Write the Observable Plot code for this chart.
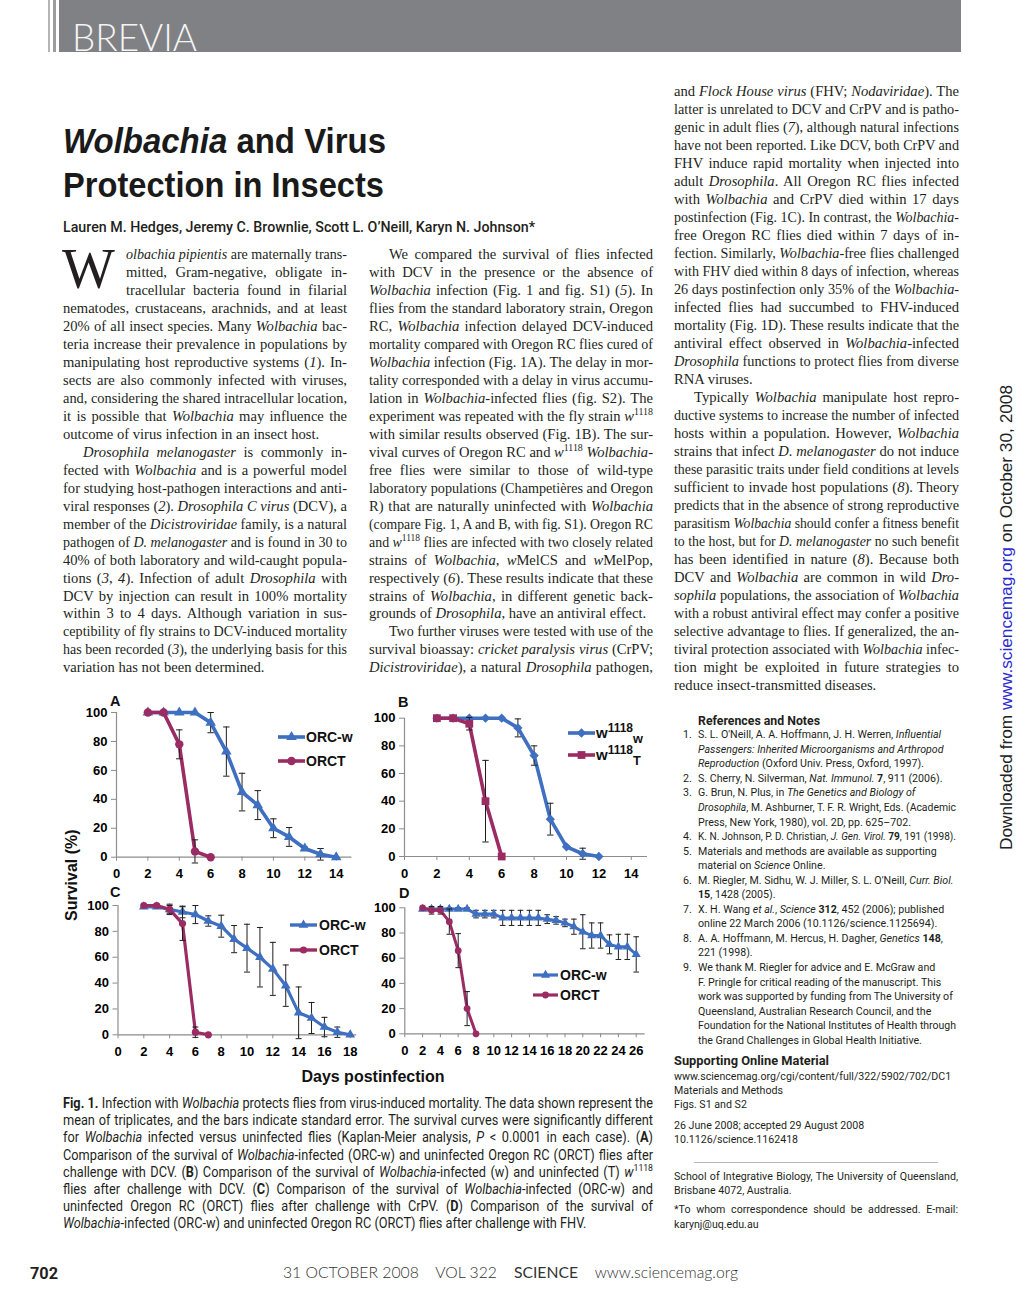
<!DOCTYPE html>
<html><head><meta charset="utf-8">
<script src="https://cdn.jsdelivr.net/npm/d3@7"></script>
<script src="https://cdn.jsdelivr.net/npm/@observablehq/plot@0.6"></script>
<style>
html,body{margin:0;padding:0;background:#fff;}
#page{position:relative;width:1020px;height:1298px;overflow:hidden;color:#231f20;background:#fff;}
.ln{position:absolute;white-space:pre;transform-origin:0 50%;}
.ln sup{font-size:68%;vertical-align:baseline;position:relative;top:-0.55em;line-height:0;}
.ln sub{font-size:72%;vertical-align:baseline;position:relative;top:0.3em;line-height:0;}
.leg sup{font-size:80%;top:-0.5em;}
.leg sub{font-size:85%;top:0.35em;}
#hdr{position:absolute;left:59px;top:0;width:902px;height:52px;background:#808184;}
.vl{position:absolute;top:0;height:52px;}
</style>
</head><body><div id="page"><div id="hdr"></div></div>
<script>
// ---------------- DATA ----------------
const yTicks = [0, 20, 40, 60, 80, 100];
const xTicksA = [0, 2, 4, 6, 8, 10, 12, 14];
const xTicksB = [0, 2, 4, 6, 8, 10, 12, 14];
const xTicksC = [0, 2, 4, 6, 8, 10, 12, 14, 16, 18];
const xTicksD = [0, 2, 4, 6, 8, 10, 12, 14, 16, 18, 20, 22, 24, 26];

// Panel A (DCV, Oregon RC)
const daysA_w = [2, 3, 4, 5, 6, 7, 8, 9, 10, 11, 12, 13, 14];
const survA_w = [100, 100, 100, 100, 93, 73, 45, 36, 20, 14, 6, 2, 0];
const seA_w   = [0, 0, 0, 0, 7, 17, 13, 10, 6.5, 6.5, 1, 4, 0];
const daysA_T = [2, 3, 4, 5, 6];
const survA_T = [100, 100, 78, 4, 0];
const seA_T   = [0, 0, 10, 8, 0];

// Panel B (DCV, w1118)
const daysB_w = [2, 3, 4, 5, 6, 7, 8, 9, 10, 11, 12];
const survB_w = [100, 100, 100, 100, 100, 93, 73, 27, 7, 2, 0];
const seB_w   = [0, 0, 0, 0, 0, 6.5, 7, 11.5, 0, 4, 0];
const daysB_T = [2, 3, 4, 5, 6];
const survB_T = [100, 100, 96, 40, 0];
const seB_T   = [0, 0, 4.5, 29.5, 0];

// Panel C (CrPV, Oregon RC)
const daysC_w = [2, 3, 4, 5, 6, 7, 8, 9, 10, 11, 12, 13, 14, 15, 16, 17, 18];
const survC_w = [99, 99, 97, 95, 93, 88, 84, 74, 67, 60, 51, 38, 17, 13, 6, 2, 0];
const seC_w   = [0, 0, 4, 4.5, 7, 4, 8.5, 10.5, 18.5, 23, 20.5, 16, 20, 12, 7.5, 4, 0];
const daysC_T = [2, 3, 4, 5, 6, 7];
const survC_T = [100, 100, 97, 86, 2, 0];
const seC_T   = [0, 1, 3, 13, 4, 0];

// Panel D (FHV, Oregon RC)
const daysD_w = [2, 3, 4, 5, 6, 7, 8, 9, 10, 11, 12, 13, 14, 15, 16, 17, 18, 19, 20, 21, 22, 23, 24, 25, 26];
const survD_w = [99, 99, 99, 99, 99, 99, 95, 95, 95, 92, 92, 92, 92, 92, 91, 90, 88, 85, 81, 78, 78, 71, 69, 69, 63];
const seD_w   = [1, 1.5, 1.5, 1, 1, 1, 3, 3, 3, 6, 6, 6, 6, 6, 3.5, 3, 3, 6, 13.5, 10, 10, 7.5, 10, 10, 14];
const daysD_T = [2, 3, 4, 5, 6, 7, 8];
const survD_T = [100, 98, 98, 89, 66, 20, 0];
const seD_T   = [0, 3, 3, 10, 13.5, 13.5, 0];

const seriesNames = {A: ["ORC-w", "ORCT"], B: ["w1118w", "w1118T"], C: ["ORC-w", "ORCT"], D: ["ORC-w", "ORCT"]};

// ---------------- TEXT ----------------
const col1 = [
 "<i>olbachia pipientis</i> are maternally trans-",
 "mitted, Gram-negative, obligate in-",
 "tracellular bacteria found in filarial",
 "nematodes, crustaceans, arachnids, and at least",
 "20% of all insect species. Many <i>Wolbachia</i> bac-",
 "teria increase their prevalence in populations by",
 "manipulating host reproductive systems (<i>1</i>). In-",
 "sects are also commonly infected with viruses,",
 "and, considering the shared intracellular location,",
 "it is possible that <i>Wolbachia</i> may influence the",
 "outcome of virus infection in an insect host.|",
 "><i>Drosophila melanogaster</i> is commonly in-",
 "fected with <i>Wolbachia</i> and is a powerful model",
 "for studying host-pathogen interactions and anti-",
 "viral responses (<i>2</i>). <i>Drosophila C virus</i> (DCV), a",
 "member of the <i>Dicistroviridae</i> family, is a natural",
 "pathogen of <i>D. melanogaster</i> and is found in 30 to",
 "40% of both laboratory and wild-caught popula-",
 "tions (<i>3</i>, <i>4</i>). Infection of adult <i>Drosophila</i> with",
 "DCV by injection can result in 100% mortality",
 "within 3 to 4 days. Although variation in sus-",
 "ceptibility of fly strains to DCV-induced mortality",
 "has been recorded (<i>3</i>), the underlying basis for this",
 "variation has not been determined.|"
];
const col2 = [
 ">We compared the survival of flies infected",
 "with DCV in the presence or the absence of",
 "<i>Wolbachia</i> infection (Fig. 1 and fig. S1) (<i>5</i>). In",
 "flies from the standard laboratory strain, Oregon",
 "RC, <i>Wolbachia</i> infection delayed DCV-induced",
 "mortality compared with Oregon RC flies cured of",
 "<i>Wolbachia</i> infection (Fig. 1A). The delay in mor-",
 "tality corresponded with a delay in virus accumu-",
 "lation in <i>Wolbachia</i>-infected flies (fig. S2). The",
 "experiment was repeated with the fly strain <i>w</i><sup>1118</sup>",
 "with similar results observed (Fig. 1B). The sur-",
 "vival curves of Oregon RC and <i>w</i><sup>1118</sup> <i>Wolbachia</i>-",
 "free flies were similar to those of wild-type",
 "laboratory populations (Champetières and Oregon",
 "R) that are naturally uninfected with <i>Wolbachia</i>",
 "(compare Fig. 1, A and B, with fig. S1). Oregon RC",
 "and <i>w</i><sup>1118</sup> flies are infected with two closely related",
 "strains of <i>Wolbachia</i>, <i>w</i>MelCS and <i>w</i>MelPop,",
 "respectively (<i>6</i>). These results indicate that these",
 "strains of <i>Wolbachia</i>, in different genetic back-",
 "grounds of <i>Drosophila</i>, have an antiviral effect.|",
 ">Two further viruses were tested with use of the",
 "survival bioassay: <i>cricket paralysis virus</i> (CrPV;",
 "<i>Dicistroviridae</i>), a natural <i>Drosophila</i> pathogen,"
];
const col3 = [
 "and <i>Flock House virus</i> (FHV; <i>Nodaviridae</i>). The",
 "latter is unrelated to DCV and CrPV and is patho-",
 "genic in adult flies (<i>7</i>), although natural infections",
 "have not been reported. Like DCV, both CrPV and",
 "FHV induce rapid mortality when injected into",
 "adult <i>Drosophila</i>. All Oregon RC flies infected",
 "with <i>Wolbachia</i> and CrPV died within 17 days",
 "postinfection (Fig. 1C). In contrast, the <i>Wolbachia</i>-",
 "free Oregon RC flies died within 7 days of in-",
 "fection. Similarly, <i>Wolbachia</i>-free flies challenged",
 "with FHV died within 8 days of infection, whereas",
 "26 days postinfection only 35% of the <i>Wolbachia</i>-",
 "infected flies had succumbed to FHV-induced",
 "mortality (Fig. 1D). These results indicate that the",
 "antiviral effect observed in <i>Wolbachia</i>-infected",
 "<i>Drosophila</i> functions to protect flies from diverse",
 "RNA viruses.|",
 ">Typically <i>Wolbachia</i> manipulate host repro-",
 "ductive systems to increase the number of infected",
 "hosts within a population. However, <i>Wolbachia</i>",
 "strains that infect <i>D. melanogaster</i> do not induce",
 "these parasitic traits under field conditions at levels",
 "sufficient to invade host populations (<i>8</i>). Theory",
 "predicts that in the absence of strong reproductive",
 "parasitism <i>Wolbachia</i> should confer a fitness benefit",
 "to the host, but for <i>D. melanogaster</i> no such benefit",
 "has been identified in nature (<i>8</i>). Because both",
 "DCV and <i>Wolbachia</i> are common in wild <i>Dro-</i>",
 "<i>sophila</i> populations, the association of <i>Wolbachia</i>",
 "with a robust antiviral effect may confer a positive",
 "selective advantage to flies. If generalized, the an-",
 "tiviral protection associated with <i>Wolbachia</i> infec-",
 "tion might be exploited in future strategies to",
 "reduce insect-transmitted diseases.|"
];
const caption = [
 "<b>Fig. 1.</b> Infection with <i>Wolbachia</i> protects flies from virus-induced mortality. The data shown represent the",
 "mean of triplicates, and the bars indicate standard error. The survival curves were significantly different",
 "for <i>Wolbachia</i> infected versus uninfected flies (Kaplan-Meier analysis, <i>P</i> &lt; 0.0001 in each case). (<b>A</b>)",
 "Comparison of the survival of <i>Wolbachia</i>-infected (ORC-w) and uninfected Oregon RC (ORCT) flies after",
 "challenge with DCV. (<b>B</b>) Comparison of the survival of <i>Wolbachia</i>-infected (w) and uninfected (T) <i>w</i><sup>1118</sup>",
 "flies after challenge with DCV. (<b>C</b>) Comparison of the survival of <i>Wolbachia</i>-infected (ORC-w) and",
 "uninfected Oregon RC (ORCT) flies after challenge with CrPV. (<b>D</b>) Comparison of the survival of",
 "<i>Wolbachia</i>-infected (ORC-w) and uninfected Oregon RC (ORCT) flies after challenge with FHV.|"
];
const refs = [
 ["1.", "S. L. O'Neill, A. A. Hoffmann, J. H. Werren, <i>Influential</i>"],
 ["", "<i>Passengers: Inherited Microorganisms and Arthropod</i>"],
 ["", "<i>Reproduction</i> (Oxford Univ. Press, Oxford, 1997)."],
 ["2.", "S. Cherry, N. Silverman, <i>Nat. Immunol.</i> <b>7</b>, 911 (2006)."],
 ["3.", "G. Brun, N. Plus, in <i>The Genetics and Biology of</i>"],
 ["", "<i>Drosophila</i>, M. Ashburner, T. F. R. Wright, Eds. (Academic"],
 ["", "Press, New York, 1980), vol. 2D, pp. 625–702."],
 ["4.", "K. N. Johnson, P. D. Christian, <i>J. Gen. Virol.</i> <b>79</b>, 191 (1998)."],
 ["5.", "Materials and methods are available as supporting"],
 ["", "material on <i>Science</i> Online."],
 ["6.", "M. Riegler, M. Sidhu, W. J. Miller, S. L. O'Neill, <i>Curr. Biol.</i>"],
 ["", "<b>15</b>, 1428 (2005)."],
 ["7.", "X. H. Wang <i>et al.</i>, <i>Science</i> <b>312</b>, 452 (2006); published"],
 ["", "online 22 March 2006 (10.1126/science.1125694)."],
 ["8.", "A. A. Hoffmann, M. Hercus, H. Dagher, <i>Genetics</i> <b>148</b>,"],
 ["", "221 (1998)."],
 ["9.", "We thank M. Riegler for advice and E. McGraw and"],
 ["", "F. Pringle for critical reading of the manuscript. This"],
 ["", "work was supported by funding from The University of"],
 ["", "Queensland, Australian Research Council, and the"],
 ["", "Foundation for the National Institutes of Health through"],
 ["", "the Grand Challenges in Global Health Initiative."]
];

// ---------------- LAYOUT HELPERS ----------------
const page = document.getElementById('page');
const F = {
  serif: '"Liberation Serif","Times New Roman",serif',
  sans: '"Liberation Sans",Arial,sans-serif',
  rob: 'Roboto,"Open Sans",sans-serif',
  lato: 'Lato,"Open Sans",sans-serif'
};
const BF = {serif: 0.8375, sans: 0.8465, rob: 0.8415, lato: 0.887};
function addText(html, x, base, o = {}) {
  const fs = o.fs || 14.6, fk = o.f || 'serif';
  const el = document.createElement('div');
  el.className = 'ln' + (o.cls ? ' ' + o.cls : '');
  el.innerHTML = html;
  Object.assign(el.style, {
    left: x + 'px', top: (base - BF[fk] * fs) + 'px', fontSize: fs + 'px',
    lineHeight: fs + 'px', fontFamily: F[fk], fontWeight: o.fw || 'normal',
    color: o.color || '#231f20'
  });
  if (o.style) Object.assign(el.style, o.style);
  (o.parent || page).appendChild(el);
  const w = el.getBoundingClientRect().width;
  let s = o.scale || 1;
  if (o.width) {
    if (o.exact) s = o.width / w;
    else if (w * s > o.width) s = o.width / w;
    else if (o.justify) {
      const n = (el.textContent.match(/ /g) || []).length;
      if (n) el.style.wordSpacing = ((o.width / s - w) / n) + 'px';
    }
  }
  if (o.align === 'right') el.style.left = (x - w * s) + 'px';
  if (o.align === 'center') el.style.left = (x - w * s / 2) + 'px';
  if (s !== 1) el.style.transform = `scaleX(${s})`;
  return {el, w, s};
}
function measure(html, fs, fk, fw) {
  const r = addText(html, 0, -200, {fs, f: fk, fw});
  const w = r.w; r.el.remove(); return w;
}
function column(lines, x, w, base0, step, fs, drop) {
  lines.forEach((raw, i) => {
    let s = raw, ind = 0, just = true;
    if (s.startsWith('>')) { s = s.slice(1); ind = 20; }
    if (s.endsWith('|')) { s = s.slice(0, -1); just = false; }
    if (drop && i < drop.lines) ind = drop.indent;
    addText(s, x + ind, base0 + step * i, {fs, width: w - ind, justify: just});
  });
}

// ---------------- HEADER ----------------
const hdr = document.getElementById('hdr');
[[48, 1.5, '#b5b5b7'], [53, 3, '#9c9c9e']].forEach(([x, w, c]) => {
  const d = document.createElement('div'); d.className = 'vl';
  Object.assign(d.style, {left: x + 'px', width: w + 'px', background: c});
  page.appendChild(d);
});
addText('BREVIA', 13, 50.5, {fs: 38, f: 'lato', fw: 300, color: '#f4f4f4', width: 125, exact: true, parent: hdr});

// ---------------- TITLE ----------------
addText('<i>Wolbachia</i> and Virus', 63, 153, {fs: 35, f: 'sans', fw: 'bold', color: '#1a1a1a', width: 323, exact: true});
addText('Protection in Insects', 63, 197, {fs: 35, f: 'sans', fw: 'bold', color: '#1a1a1a', width: 321, exact: true});
addText("Lauren M. Hedges, Jeremy C. Brownlie, Scott L. O’Neill, Karyn N. Johnson*", 63, 232, {fs: 14, f: 'rob', fw: 500, width: 472, exact: true});

// ---------------- BODY ----------------
addText('W', 62, 288, {fs: 56, f: 'serif'});
column(col1, 63, 284, 259.5, 17.96, 14.6, {lines: 3, indent: 63});
column(col2, 369, 284, 259.5, 17.96, 14.6);
column(col3, 674, 285, 96, 18.0, 14.6);

// ---------------- CAPTION ----------------
{
  const fs = 14, maxW = Math.max(...caption.map(c => measure(c.replace(/\|$/, ''), fs, 'rob')));
  const s0 = 590 / maxW;
  caption.forEach((raw, i) => {
    const last = raw.endsWith('|');
    addText(raw.replace(/\|$/, ''), 63, 1108 + 17.1 * i, {fs, f: 'rob', width: 590, justify: !last, scale: s0});
  });
}

// ---------------- REFERENCES ----------------
{
  const fs = 11.6;
  const s0 = 213 / measure('Press, New York, 1980), vol. 2D, pp. 625–702.', fs, 'rob');
  addText('References and Notes', 698, 725, {fs: 13, f: 'rob', fw: 'bold', width: 122, exact: true});
  refs.forEach(([n, t], i) => {
    const b = 739 + 14.55 * i;
    if (n) addText(n, 692, b, {fs, f: 'rob', scale: s0, align: 'right'});
    addText(t, 698, b, {fs, f: 'rob', scale: s0, width: 258});
  });
  addText('Supporting Online Material', 674, 1065, {fs: 13, f: 'rob', fw: 'bold', width: 155, exact: true});
  const side = [
    ['www.sciencemag.org/cgi/content/full/322/5902/702/DC1', 1080.5],
    ['Materials and Methods', 1094.5],
    ['Figs. S1 and S2', 1109],
    ['26 June 2008; accepted 29 August 2008', 1130],
    ['10.1126/science.1162418', 1144]
  ];
  side.forEach(([t, b]) => addText(t, 674, b, {fs, f: 'rob', scale: s0}));
  const hr = document.createElement('div');
  Object.assign(hr.style, {position: 'absolute', left: '694px', top: '1162px', width: '244px', height: '1px', background: '#b8b8b8'});
  page.appendChild(hr);
  addText('School of Integrative Biology, The University of Queensland,', 674, 1181, {fs, f: 'rob', scale: s0, width: 284, justify: true});
  addText('Brisbane 4072, Australia.', 674, 1195, {fs, f: 'rob', scale: s0});
  addText('*To whom correspondence should be addressed. E-mail:', 674, 1214, {fs, f: 'rob', scale: s0, width: 284, justify: true});
  addText('karynj@uq.edu.au', 674, 1228.5, {fs, f: 'rob', scale: s0});
}

// ---------------- FOOTER ----------------
addText('702', 30, 1279, {fs: 16, f: 'rob', fw: 'bold', width: 28, exact: true});
addText('31 OCTOBER 2008    VOL 322    <b>SCIENCE</b>    www.sciencemag.org', 283, 1278, {fs: 15, f: 'lato', fw: 300, width: 455, exact: true, color: '#333'});

// ---------------- SIDE TEXT ----------------
{
  const r = addText('Downloaded from <span style="color:#2b2bd0">www.sciencemag.org</span> on October 30, 2008', 998.5, 850 + 0.8465 * 16, {fs: 16, f: 'sans', color: '#222'});
  r.el.style.top = '850px';
  r.el.style.transformOrigin = '0 0';
  r.el.style.transform = `rotate(-90deg) scaleX(${465 / r.w})`;
}

// ---------------- CHARTS ----------------
const BLUE = '#3f6fc0', BERRY = '#9b2c63', AXIS = '#8c8c8c', ERR = '#1e1e1e';
const capSymbol = {draw(ctx, size) { const w = Math.sqrt(size / Math.PI); ctx.moveTo(-w, 0); ctx.lineTo(w, 0); }};
function rowsOf(days, mean, se) { return days.map((d, i) => ({day: d, m: mean[i], se: se[i]})); }

function panel(cfg) {
  const marks = [
    Plot.ruleY([0], {stroke: AXIS, strokeWidth: 1.2}),
    Plot.ruleX([0], {y1: 0, y2: 100, stroke: AXIS, strokeWidth: 1.2}),
    Plot.axisX({ticks: cfg.xticks, tickSize: 4, tickPadding: 8, stroke: AXIS, label: null, tickFormat: d => String(d)}),
    Plot.axisY({ticks: yTicks, tickSize: 5, tickPadding: 4, stroke: AXIS, label: null, tickFormat: d => String(d)})
  ];
  for (const s of cfg.series) {
    const rows = rowsOf(s.days, s.mean, s.se);
    const err = rows.filter(r => r.se > 0);
    marks.push(Plot.line(rows, {x: 'day', y: 'm', stroke: s.color, strokeWidth: s.sw, strokeLinejoin: 'round'}));
    marks.push(Plot.ruleX(err, {x: 'day', y1: r => r.m - r.se, y2: r => r.m + r.se, stroke: ERR, strokeWidth: 1}));
    marks.push(Plot.dot(err, {x: 'day', y: r => r.m + r.se, symbol: capSymbol, r: cfg.cap, stroke: ERR, fill: 'none', strokeWidth: 1}));
    marks.push(Plot.dot(err, {x: 'day', y: r => r.m - r.se, symbol: capSymbol, r: cfg.cap, stroke: ERR, fill: 'none', strokeWidth: 1}));
    marks.push(Plot.dot(rows, {x: 'day', y: 'm', symbol: s.symbol, r: s.r, fill: s.color, stroke: 'none'}));
  }
  const svg = Plot.plot({
    width: cfg.width, height: cfg.height,
    marginTop: cfg.mt, marginRight: cfg.mr, marginBottom: cfg.mb, marginLeft: cfg.ml,
    x: {domain: [0, cfg.xmax]},
    y: {domain: [0, 100]},
    style: {fontFamily: F.sans, fontSize: '13px', fontWeight: 'bold', color: '#000', background: 'transparent', overflow: 'visible'},
    marks
  });
  Object.assign(svg.style, {position: 'absolute', left: cfg.left + 'px', top: cfg.top + 'px'});
  page.appendChild(svg);
}

function legendItem(x1, x2, y, color, sym, r, sw, html, tx, fs) {
  const svg = d3.select(page).append('svg')
    .style('position', 'absolute').style('left', (x1 - 6) + 'px').style('top', (y - 10) + 'px')
    .style('overflow', 'visible').attr('width', x2 - x1 + 12).attr('height', 20);
  svg.append('line').attr('x1', 6).attr('x2', x2 - x1 + 6).attr('y1', 10).attr('y2', 10)
    .attr('stroke', color).attr('stroke-width', sw);
  svg.append('path').attr('transform', `translate(${(x2 - x1) / 2 + 6},10)`)
    .attr('d', d3.symbol(sym, Math.PI * r * r)()).attr('fill', color);
  addText(html, tx, y + 5, {fs: fs || 14, f: 'sans', fw: 'bold', color: '#111', cls: 'leg'});
}

// Panel A
panel({left: 60, top: 690, width: 300, height: 195, mt: 22, mr: 8.6, mb: 28.3, ml: 56, xmax: 15, xticks: xTicksA, cap: 3.2,
  series: [
    {days: daysA_w, mean: survA_w, se: seA_w, color: BLUE, symbol: 'triangle', r: 3.9, sw: 3.6},
    {days: daysA_T, mean: survA_T, se: seA_T, color: BERRY, symbol: 'circle', r: 4.2, sw: 3.6}
  ]});
// Panel B
panel({left: 360, top: 690, width: 300, height: 195, mt: 27.7, mr: 13, mb: 29, ml: 44, xmax: 15, xticks: xTicksB, cap: 3.2,
  series: [
    {days: daysB_w, mean: survB_w, se: seB_w, color: BLUE, symbol: 'diamond2', r: 4.2, sw: 3.6},
    {days: daysB_T, mean: survB_T, se: seB_T, color: BERRY, symbol: 'square', r: 4.4, sw: 3.6}
  ]});
// Panel C
panel({left: 60, top: 880, width: 300, height: 190, mt: 25, mr: 3.8, mb: 35.7, ml: 57.5, xmax: 18.5, xticks: xTicksC, cap: 3,
  series: [
    {days: daysC_w, mean: survC_w, se: seC_w, color: BLUE, symbol: 'triangle', r: 3.6, sw: 3.2},
    {days: daysC_T, mean: survC_T, se: seC_T, color: BERRY, symbol: 'circle', r: 3.6, sw: 3.2}
  ]});
// Panel D
panel({left: 360, top: 880, width: 300, height: 190, mt: 27.3, mr: 15.4, mb: 36.7, ml: 44.3, xmax: 27, xticks: xTicksD, cap: 2.8,
  series: [
    {days: daysD_w, mean: survD_w, se: seD_w, color: BLUE, symbol: 'triangle', r: 3.4, sw: 3},
    {days: daysD_T, mean: survD_T, se: seD_T, color: BERRY, symbol: 'circle', r: 3.4, sw: 3}
  ]});

// panel letters
addText('A', 110, 706, {fs: 14.5, f: 'sans', fw: 'bold', color: '#111'});
addText('B', 398, 707, {fs: 14.5, f: 'sans', fw: 'bold', color: '#111'});
addText('C', 110, 897.5, {fs: 14.5, f: 'sans', fw: 'bold', color: '#111'});
addText('D', 399, 898, {fs: 14.5, f: 'sans', fw: 'bold', color: '#111'});

// legends
legendItem(278, 305, 737, BLUE, d3.symbolTriangle, 3.9, 3.6, seriesNames.A[0], 306);
legendItem(278, 305, 760.5, BERRY, d3.symbolCircle, 4.2, 3.6, seriesNames.A[1], 306);
legendItem(568, 595, 733, BLUE, d3.symbolDiamond2, 4.2, 3.6, 'w<sup>1118</sup><sub>w</sub>', 596, 15);
legendItem(568, 595, 755, BERRY, d3.symbolSquare, 4.4, 3.6, 'w<sup>1118</sup><sub>T</sub>', 596, 15);
legendItem(290, 317, 924.5, BLUE, d3.symbolTriangle, 3.6, 3.4, seriesNames.C[0], 319);
legendItem(290, 317, 950, BERRY, d3.symbolCircle, 3.6, 3.4, seriesNames.C[1], 319);
legendItem(533, 558, 975, BLUE, d3.symbolTriangle, 3.4, 3.2, seriesNames.D[0], 560);
legendItem(533, 558, 994.5, BERRY, d3.symbolCircle, 3.4, 3.2, seriesNames.D[1], 560);

// axis titles
{
  const r = addText('Survival (%)', 0, 0, {fs: 16, f: 'sans', fw: 'bold', color: '#111'});
  const w = r.w;
  r.el.style.transformOrigin = '0 0';
  r.el.style.left = (78 - 0.8465 * 16) + 'px';
  r.el.style.top = (875 + w / 2) + 'px';
  r.el.style.transform = 'rotate(-90deg)';
}
addText('Days postinfection', 373, 1083, {fs: 16, f: 'sans', fw: 'bold', color: '#111', align: 'center'});
</script>
</body></html>
